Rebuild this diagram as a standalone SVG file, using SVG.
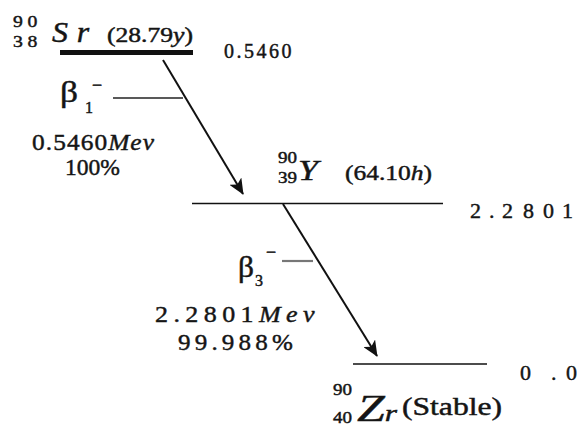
<svg xmlns="http://www.w3.org/2000/svg" width="580" height="430" viewBox="0 0 580 430">
<style>
text{font-family:'Liberation Serif','DejaVu Serif','Times New Roman',serif;fill:#151515;stroke:#151515;stroke-width:0.45}
.it{font-style:italic}
.lvl{stroke:#111;stroke-width:1.6;fill:none}
.arr{stroke:#111;stroke-width:2;fill:none}
</style>
<defs>
<marker id="ah" viewBox="0 0 16 14" refX="15" refY="7" markerWidth="16" markerHeight="14" markerUnits="userSpaceOnUse" orient="auto">
<path d="M0,0 L16,7 L0,14 L4,7 z" fill="#111"/>
</marker>
</defs>
<rect width="580" height="430" fill="#fff"/>
<g id="sr">
<line x1="60" y1="52.5" x2="193" y2="52.5" stroke="#111" stroke-width="5"/>
<text x="13" y="27" font-size="17" letter-spacing="4" textLength="29" lengthAdjust="spacingAndGlyphs">90</text>
<text x="13" y="47" font-size="17" letter-spacing="4" textLength="29" lengthAdjust="spacingAndGlyphs">38</text>
<text x="52" y="42" font-size="29" class="it" letter-spacing="8" textLength="46" lengthAdjust="spacingAndGlyphs">Sr</text>
<text x="107" y="42" font-size="20" textLength="86" lengthAdjust="spacingAndGlyphs">(28.79<tspan class="it">y</tspan>)</text>
<text x="224" y="58" font-size="20" letter-spacing="2.5">0.5460</text>
</g>
<g id="y">
<line class="lvl" x1="192" y1="203.5" x2="443" y2="203.5"/>
<text x="278" y="163" font-size="16" textLength="19" lengthAdjust="spacingAndGlyphs">90</text>
<text x="278" y="183" font-size="16" textLength="19" lengthAdjust="spacingAndGlyphs">39</text>
<text x="298" y="180" font-size="30" class="it" textLength="20" lengthAdjust="spacingAndGlyphs">Y</text>
<text x="345" y="180" font-size="21" textLength="87" lengthAdjust="spacingAndGlyphs">(64.10<tspan class="it">h</tspan>)</text>
<text x="470 489 502 523 543 562" y="218" font-size="22">2.2801</text>
</g>
<g id="zr">
<line class="lvl" x1="353" y1="364" x2="487" y2="364"/>
<text x="333" y="395" font-size="17" textLength="19" lengthAdjust="spacingAndGlyphs">90</text>
<text x="333" y="423" font-size="17" textLength="19" lengthAdjust="spacingAndGlyphs">40</text>
<text x="357" y="421" font-size="38" class="it" textLength="40" lengthAdjust="spacingAndGlyphs">Z<tspan font-size="24">r</tspan></text>
<text x="402" y="415" font-size="25" textLength="100" lengthAdjust="spacingAndGlyphs">(Stable)</text>
<text x="520 533 551 558 566" y="380" font-size="22">0 . 0</text>
</g>
<g id="beta1">
<text x="60" y="102" font-size="30" textLength="18" lengthAdjust="spacingAndGlyphs">β</text>
<text x="85" y="113" font-size="16">1</text>
<text x="92" y="91" font-size="18">−</text>
<text x="32" y="150" font-size="24" letter-spacing="1" textLength="123" lengthAdjust="spacingAndGlyphs">0.5460<tspan class="it">Mev</tspan></text>
<text x="65" y="175" font-size="24" textLength="55" lengthAdjust="spacingAndGlyphs">100%</text>
</g>
<g id="beta3">
<text x="238" y="277" font-size="30" textLength="16" lengthAdjust="spacingAndGlyphs">β</text>
<text x="255" y="286" font-size="16">3</text>
<text x="266" y="258" font-size="18">−</text>
<text x="155" y="322" font-size="24" letter-spacing="5" textLength="165" lengthAdjust="spacingAndGlyphs">2.2801<tspan class="it">Mev</tspan></text>
<text x="178" y="350" font-size="24" letter-spacing="4" textLength="119" lengthAdjust="spacingAndGlyphs">99.988%</text>
</g>
<g id="connectors">
<line x1="163" y1="60" x2="243" y2="194" class="arr" marker-end="url(#ah)"/>
<line x1="113" y1="98" x2="183" y2="98" stroke="#222" stroke-width="1.5"/>
<line x1="283" y1="204" x2="377" y2="356" class="arr" marker-end="url(#ah)"/>
<line x1="282" y1="261" x2="313" y2="261" stroke="#777" stroke-width="2.2"/>
</g>
</svg>
